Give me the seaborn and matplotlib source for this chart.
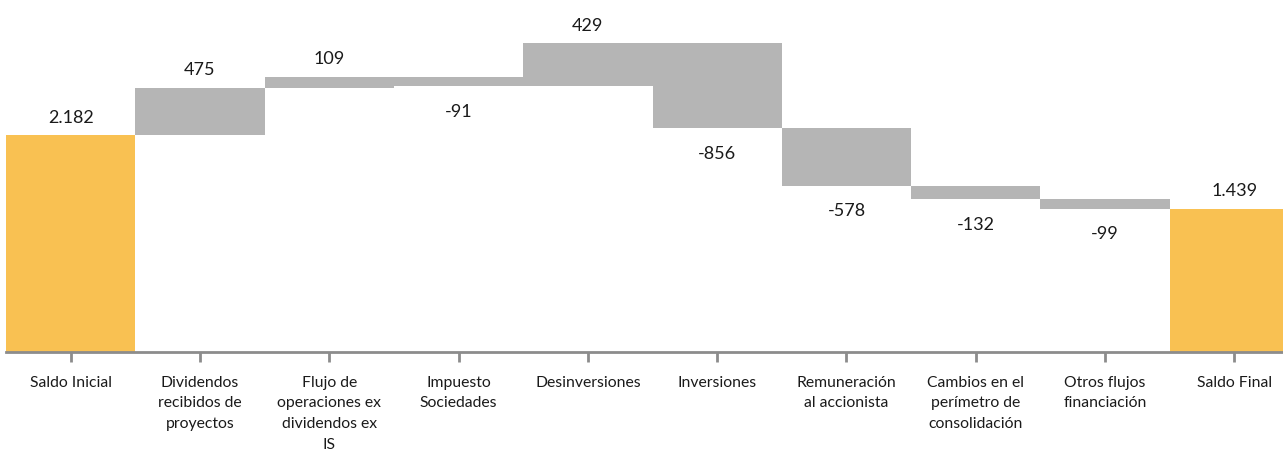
import matplotlib
matplotlib.use("Agg")
import matplotlib.pyplot as plt
import seaborn as sns
import numpy as np

categories = ["Saldo Inicial", "Dividendos\nrecibidos de\nproyectos",
              "Flujo de\noperaciones ex\ndividendos ex\nIS", "Impuesto\nSociedades",
              "Desinversiones", "Inversiones", "Remuneración\nal accionista",
              "Cambios en el\nperímetro de\nconsolidación", "Otros flujos\nfinanciación",
              "Saldo Final"]
values = [2182, 475, 109, -91, 429, -856, -578, -132, -99, 1439]
is_total = [True, False, False, False, False, False, False, False, False, True]

# waterfall geometry from the values
bottoms, heights = [], []
running = 0
for v, tot in zip(values, is_total):
    if tot:
        bottoms.append(0)
        heights.append(v)
        running = v
    else:
        low = running if v > 0 else running + v
        bottoms.append(low)
        heights.append(abs(v))
        running += v
tops = np.array(bottoms) + np.array(heights)

sns.set_style("white")
plt.rcParams["font.family"] = ["Lato", "DejaVu Sans"]

fig = plt.figure(figsize=(12.83, 4.5), dpi=100)
ax = fig.add_axes([6 / 1283, 98 / 450, 1293 / 1283, 352 / 450])

sns.barplot(x=categories, y=heights, bottom=bottoms, color="#B5B5B5",
            saturation=1, width=1.0, ax=ax)
for patch, tot in zip(ax.patches, is_total):
    if tot:
        patch.set_facecolor("#F9C152")
    patch.set_edgecolor("none")

ax.set_xlim(-0.5, len(categories) - 0.5)
ax.set_ylim(0, 3540)

for i, v in enumerate(values):
    label = f"{v:,}".replace(",", ".")
    if v >= 0:
        ax.annotate(label, (i, tops[i]), xytext=(0, 9), textcoords="offset points",
                    ha="center", va="baseline", fontsize=13, color="#1a1a1a")
    else:
        ax.annotate(label, (i, bottoms[i]), xytext=(0, -22), textcoords="offset points",
                    ha="center", va="baseline", fontsize=13, color="#1a1a1a")

for s in ["top", "right", "left"]:
    ax.spines[s].set_visible(False)
ax.spines["bottom"].set_color("#8C8C8C")
ax.spines["bottom"].set_linewidth(2)
ax.set_yticks([])
ax.tick_params(axis="x", direction="out", length=7, width=2, color="#8C8C8C",
               labelsize=11.3, labelcolor="#1a1a1a", pad=10, bottom=True)
for t in ax.get_xticklabels():
    t.set_linespacing(1.62)
    t.set_verticalalignment("top")

fig.savefig("out.png", dpi=100)
